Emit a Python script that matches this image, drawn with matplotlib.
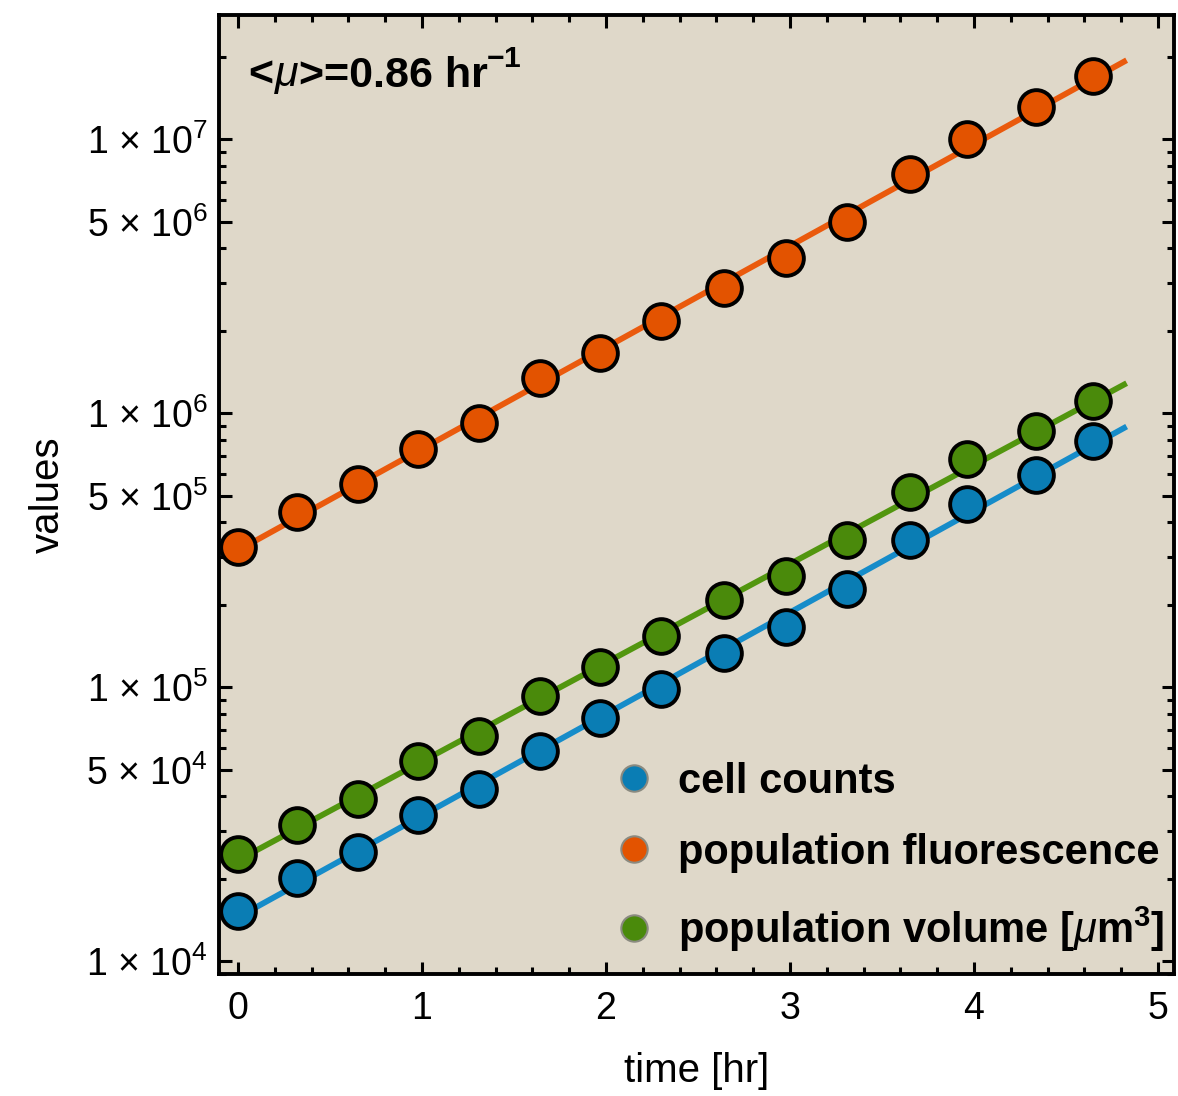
import numpy as np
import matplotlib
matplotlib.use("Agg")
import matplotlib.pyplot as plt
from matplotlib.lines import Line2D
from matplotlib.ticker import FixedLocator, FuncFormatter, MultipleLocator

plt.rcParams['font.family'] = ['Liberation Sans', 'DejaVu Sans']
plt.rcParams['mathtext.fontset'] = 'custom'
plt.rcParams['mathtext.default'] = 'regular'
plt.rcParams['mathtext.rm'] = 'Liberation Sans'
plt.rcParams['mathtext.it'] = 'Liberation Sans:italic'
plt.rcParams['mathtext.bf'] = 'Liberation Sans:bold'

# ---- data ----
time_hr = [0.0, 0.32, 0.65, 0.98, 1.31, 1.64, 1.97, 2.30, 2.64, 2.98, 3.31, 3.65, 3.96, 4.34, 4.645]
cell_counts = [1.53e4, 2.01e4, 2.50e4, 3.41e4, 4.25e4, 5.84e4, 7.71e4, 9.83e4, 1.34e5, 1.66e5,
               2.28e5, 3.44e5, 4.66e5, 5.98e5, 7.96e5]
pop_fluor = [3.24e5, 4.36e5, 5.51e5, 7.40e5, 9.20e5, 1.35e6, 1.66e6, 2.17e6, 2.86e6, 3.68e6,
             4.98e6, 7.45e6, 1.00e7, 1.31e7, 1.70e7]
pop_volume = [2.46e4, 3.14e4, 3.90e4, 5.37e4, 6.63e4, 9.27e4, 1.19e5, 1.54e5, 2.08e5, 2.54e5,
              3.44e5, 5.15e5, 6.79e5, 8.59e5, 1.11e6]
fit_range = [0.0, 4.83]
series_names = ["cell counts", "population fluorescence", "population volume [$\\mathit{\\mu}$m$^{3}$]"]
y_major = [1e4, 5e4, 1e5, 5e5, 1e6, 5e6, 1e7]
annotation = ["<", "$\\mathit{\\mu}$", ">=0.86 hr", "$^{-1}$"]

marker_colors = ["#0a7db4", "#e35300", "#4a8a0b"]
line_colors = ["#168cc9", "#ea5a0d", "#52960f"]
bg = "#dfd8c9"

fig = plt.figure(figsize=(11.78, 10.96), dpi=100)
ax = fig.add_axes([0.186, 0.111, 0.811, 0.875])
ax.set_facecolor(bg)
ax.set_yscale('log')

t = np.array(time_hr)
tf = np.array(fit_range)
for data, mc, lc in zip([cell_counts, pop_fluor, pop_volume], marker_colors, line_colors):
    p = np.polyfit(t, np.log10(data), 1)
    ax.plot(tf, 10 ** np.polyval(p, tf), color=lc, lw=4.2, solid_capstyle='butt', zorder=2)
for data, mc in zip([cell_counts, pop_fluor, pop_volume], marker_colors):
    ax.plot(t, data, 'o', ms=25, mfc=mc, mec='black', mew=2.8, zorder=3, ls='none')

ax.set_xlim(-0.103, 5.09)
ax.set_ylim(10 ** 3.9526, 10 ** 7.4526)

def fmt(v, pos):
    e = int(np.floor(np.log10(v) + 1e-9))
    m = int(round(v / 10 ** e))
    return f"{m} \u00d7 10$^{{{e}}}$"

ax.yaxis.set_major_locator(FixedLocator(y_major))
ax.yaxis.set_major_formatter(FuncFormatter(fmt))
minors = [m * 10 ** e for e in range(3, 8) for m in range(1, 10)]
minors = [v for v in minors if v not in y_major]
ax.yaxis.set_minor_locator(FixedLocator(minors))
ax.yaxis.set_minor_formatter(FuncFormatter(lambda v, p: ""))
ax.xaxis.set_major_locator(MultipleLocator(1))
ax.xaxis.set_minor_locator(MultipleLocator(0.2))

ax.tick_params(which='both', direction='in', top=True, right=True, labelsize=27, width=2.2)
ax.tick_params(axis='x', pad=12)
ax.tick_params(axis='y', pad=8)
ax.tick_params(which='major', length=9)
ax.tick_params(which='minor', length=5)
for s in ax.spines.values():
    s.set_linewidth(2.8)

ax.set_xlabel("time [hr]", fontsize=29, labelpad=18)
ax.set_ylabel("values", fontsize=29, labelpad=14)

# annotation
fs_a = 31
t1 = ax.text(0.031, 0.958, annotation[0], transform=ax.transAxes, fontsize=fs_a, fontweight='bold', va='top')
t2 = ax.annotate(annotation[1], xy=(1, 0), xycoords=t1, fontsize=fs_a, fontweight='bold', va='bottom')
t3 = ax.annotate(annotation[2], xy=(1, 0), xycoords=t2, fontsize=fs_a, fontweight='bold', va='bottom')
t4 = ax.annotate(annotation[3], xy=(0.99, 0.12), xycoords=t3, fontsize=fs_a, fontweight='bold', va='bottom')

handles = [Line2D([], [], ls='none', marker='o', ms=19, mfc=c, mec='#8a8a80', mew=1.5) for c in marker_colors]
leg = ax.legend(handles, series_names, loc='lower right', bbox_to_anchor=(1.011, 0.0),
                frameon=False, prop={'size': 30, 'weight': 'bold'}, handletextpad=0.55,
                labelspacing=0.75, handlelength=1.0, borderaxespad=0.1)

fig.savefig("out.png", dpi=100)
